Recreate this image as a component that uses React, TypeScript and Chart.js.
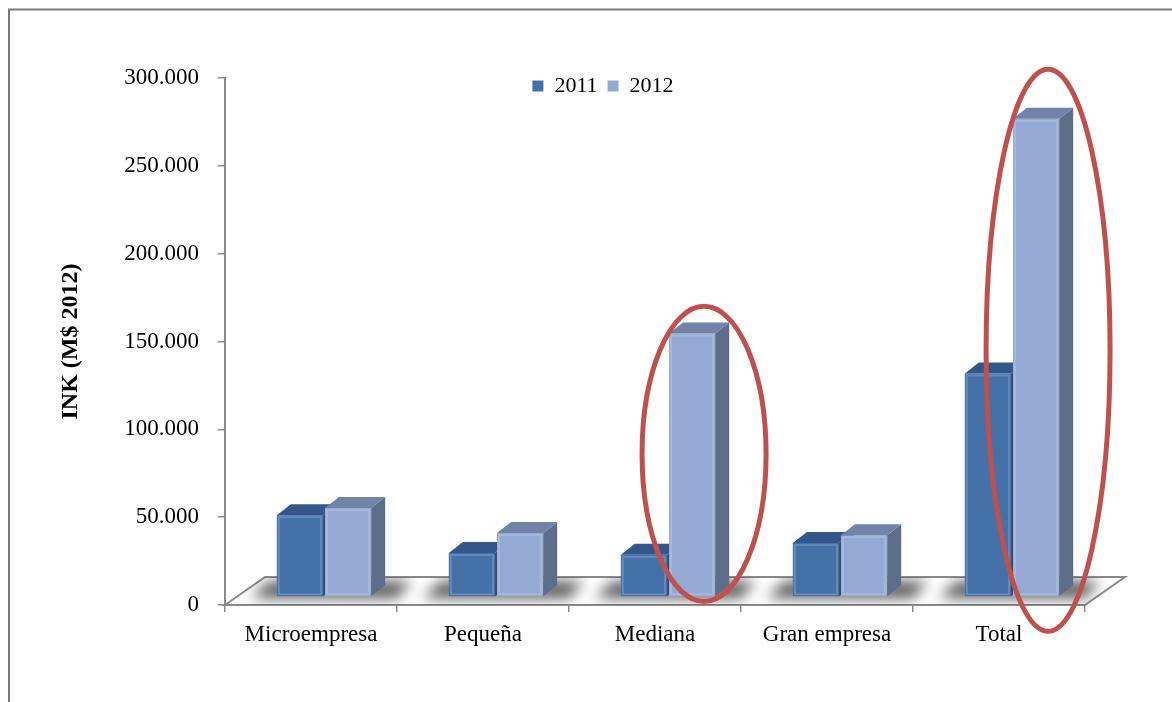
import React, { useEffect, useRef } from 'react';
import { Chart, registerables } from 'chart.js';

Chart.register(...registerables);

const categories = ['Microempresa', 'Pequeña', 'Mediana', 'Gran empresa', 'Total'];
const seriesLabels = ['2011', '2012'];
const values2011 = [46600, 25000, 24000, 30700, 127300];
const values2012 = [50600, 36400, 150000, 35200, 272200];
const yTicks = [0, 50000, 100000, 150000, 200000, 250000, 300000];
const axisTitle = 'INK (M$ 2012)';
// highlighted categories (red ellipses), value range they span
const highlightIndex = [2, 4];
const highlightTop = [170000, 305000];
const highlightBottom = [2000, -15000];

const FRONT = ['#4371A8', '#94A9D3'];
const TOP = ['#33578A', '#7183A8'];
const SIDE = ['#2E4D78', '#5D6E8B'];
const FONT = 'Liberation Serif';
const GRAY = '#8a8a8a';

const DX = 13; // bar plane offset (depth)
const DY = 8;
const BX = 14; // bar depth
const BY = 11;
const FLOOR_X = 40;
const FLOOR_Y = 28;

const fmt = (v: number) => String(v).replace(/\B(?=(\d{3})+(?!\d))/g, '.');

const threeD = {
  id: 'threeD',
  beforeDraw(chart: any) {
    const ctx = chart.ctx;
    ctx.save();
    ctx.strokeStyle = '#7a7a7a';
    ctx.lineWidth = 2;
    ctx.beginPath();
    ctx.moveTo(9, chart.height);
    ctx.lineTo(9, 9.5);
    ctx.lineTo(chart.width, 9.5);
    ctx.stroke();
    ctx.restore();
  },
  afterLayout(chart: any) {
    const lg = chart.legend;
    if (lg) {
      lg.top += 29;
      lg.bottom += 29;
      lg.left -= 52;
      lg.right -= 52;
    }
  },
  beforeDatasetsDraw(chart: any) {
    const { ctx, chartArea: a } = chart;
    ctx.save();
    ctx.beginPath();
    ctx.moveTo(a.left, a.bottom);
    ctx.lineTo(a.left + FLOOR_X, a.bottom - FLOOR_Y);
    ctx.lineTo(a.right + FLOOR_X, a.bottom - FLOOR_Y);
    ctx.lineTo(a.right, a.bottom);
    ctx.closePath();
    ctx.fillStyle = '#fff';
    ctx.fill();
    ctx.strokeStyle = GRAY;
    ctx.lineWidth = 2;
    ctx.stroke();
    ctx.clip();
    const m0 = chart.getDatasetMeta(0);
    const m1 = chart.getDatasetMeta(1);
    ctx.filter = 'blur(7px)';
    ctx.fillStyle = 'rgba(0,0,0,0.65)';
    m0.data.forEach((b0: any, i: number) => {
      const b1 = m1.data[i];
      const left = b0.x - b0.width / 2 + DX;
      const right = b1.x + b1.width / 2 + DX + BX;
      const base = b0.base - DY;
      ctx.beginPath();
      ctx.moveTo(left - 26, base + 2);
      ctx.lineTo(right + 12, base + 2);
      ctx.lineTo(right + 26, base - BY - 4);
      ctx.lineTo(left - 8, base - BY - 4);
      ctx.closePath();
      ctx.fill();
    });
    ctx.restore();
  },
  beforeDatasetDraw() {
    // bars are drawn below, category by category, so the 3D faces overlap correctly
    return false;
  },
  afterDatasetsDraw(chart: any) {
    const ctx = chart.ctx;
    const metas = [chart.getDatasetMeta(0), chart.getDatasetMeta(1)];
    ctx.save();
    ctx.translate(DX, -DY);
    categories.forEach((_, ci) => {
      metas.forEach((meta, di) => {
        const bar = meta.data[ci];
        if (!bar) return;
        bar.draw(ctx, chart.chartArea);
        const { x, y, base, width } = bar.getProps(['x', 'y', 'base', 'width'], true);
        const l = x - width / 2;
        const r = x + width / 2;
        ctx.fillStyle = SIDE[di];
        ctx.beginPath();
        ctx.moveTo(r, y);
        ctx.lineTo(r + BX, y - BY);
        ctx.lineTo(r + BX, base - BY);
        ctx.lineTo(r, base);
        ctx.closePath();
        ctx.fill();
        ctx.fillStyle = TOP[di];
        ctx.beginPath();
        ctx.moveTo(l, y);
        ctx.lineTo(l + BX, y - BY);
        ctx.lineTo(r + BX, y - BY);
        ctx.lineTo(r, y);
        ctx.closePath();
        ctx.fill();
        // soft highlight along front-face edges (bevel look)
        ctx.strokeStyle = 'rgba(255,255,255,0.18)';
        ctx.lineWidth = 2;
        ctx.strokeRect(l + 2, y + 2, width - 4, base - y - 4);
      });
    });
    ctx.restore();
  },
  afterDraw(chart: any) {
    const ctx = chart.ctx;
    const meta = chart.getDatasetMeta(1);
    const ys = chart.scales.y;
    ctx.save();
    ctx.strokeStyle = '#C0504D';
    ctx.lineWidth = 5;
    highlightIndex.forEach((ci, k) => {
      const bar = meta.data[ci];
      const cx = bar.x + DX + 12;
      const top = ys.getPixelForValue(highlightTop[k]);
      const bot = ys.getPixelForValue(highlightBottom[k]);
      ctx.beginPath();
      ctx.ellipse(cx, (top + bot) / 2, 62, (bot - top) / 2, 0, 0, Math.PI * 2);
      ctx.stroke();
    });
    ctx.restore();
  },
};

export default function App() {
  const ref = useRef<HTMLCanvasElement>(null);
  useEffect(() => {
    if (!ref.current) return;
    const chart = new Chart(ref.current, {
      type: 'bar',
      data: {
        labels: categories,
        datasets: [values2011, values2012].map((vals, i) => ({
          label: seriesLabels[i],
          data: vals,
          backgroundColor: FRONT[i],
          borderWidth: 0,
          categoryPercentage: 0.56,
          barPercentage: 0.96,
        })),
      },
      options: {
        animation: false,
        responsive: true,
        maintainAspectRatio: false,
        events: [],
        layout: { padding: { top: 36, right: 87, bottom: 0, left: 0 } },
        plugins: {
          tooltip: { enabled: false },
          legend: {
            display: true,
            position: 'top',
            fullSize: false,
            labels: {
              font: { family: FONT, size: 22 },
              color: '#000',
              boxWidth: 11,
              boxHeight: 11,
              padding: 10,
            },
          },
        },
        scales: {
          x: {
            grid: {
              offset: true,
              drawOnChartArea: false,
              drawTicks: true,
              tickLength: 7,
              color: GRAY,
              lineWidth: 1.5,
            },
            border: { display: true, color: GRAY, width: 2 },
            ticks: {
              font: { family: FONT, size: 23 },
              color: '#000',
              padding: 9,
              maxRotation: 0,
              autoSkip: false,
            },
            afterFit: (s: any) => {
              s.height = 97;
            },
          },
          y: {
            min: 0,
            max: 300000,
            afterBuildTicks: (s: any) => {
              s.ticks = yTicks.map((v) => ({ value: v }));
            },
            ticks: {
              callback: (v: any) => fmt(Number(v)),
              font: { family: FONT, size: 23 },
              color: '#000',
              padding: 19,
            },
            grid: {
              drawOnChartArea: false,
              drawTicks: true,
              tickLength: 7,
              color: GRAY,
              lineWidth: 1.5,
            },
            border: { display: true, color: GRAY, width: 2 },
            title: {
              display: true,
              text: axisTitle,
              font: { family: FONT, size: 24, weight: 'bold' },
              color: '#000',
              padding: { top: 56, bottom: 0 },
            },
            afterFit: (s: any) => {
              s.width = 225;
            },
          },
        },
      },
      plugins: [threeD],
    });
    return () => chart.destroy();
  }, []);
  return (
    <div style={{ position: 'absolute', left: 0, top: 0, width: 1172, height: 702, background: '#fff', overflow: 'hidden' }}>
      <canvas ref={ref} />
    </div>
  );
}
